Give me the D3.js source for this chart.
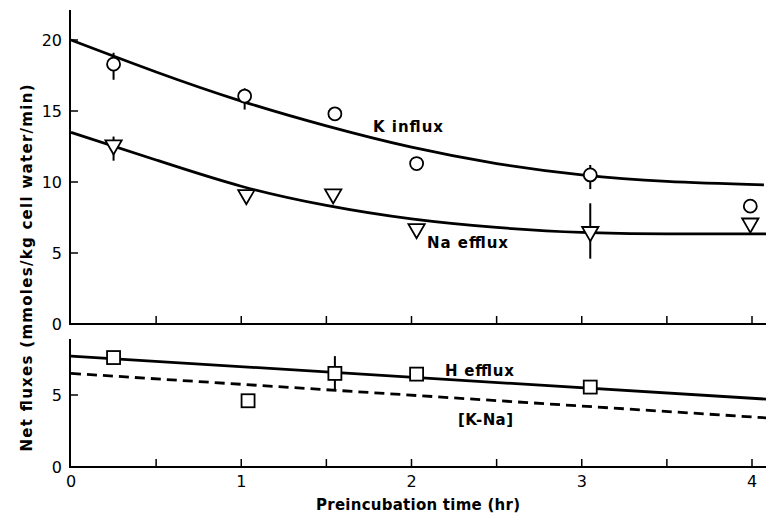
<!DOCTYPE html>
<html><head><meta charset="utf-8">
<script src="https://cdn.jsdelivr.net/npm/d3@7"></script>
<style>html,body{margin:0;padding:0;background:#fff;} svg{display:block;}</style>
</head><body>
<svg id="c" width="766" height="514"></svg>
<script>
// ---- data ----
const kInfluxT   = [0.25, 1.02, 1.55, 2.03, 3.05, 3.99];
const kInfluxV   = [18.3, 16.05, 14.8, 11.3, 10.5, 8.3];
const kInfluxErr = [[17.2, 19.1], [15.1, 16.6], null, null, [9.5, 11.2], null];
const naEffluxT   = [0.25, 1.03, 1.54, 2.03, 3.05, 3.99];
const naEffluxV   = [12.6, 9.1, 9.15, 6.7, 6.5, 7.1];
const naEffluxErr = [[11.5, 13.2], null, null, null, [4.6, 8.5], null];
const hEffluxT   = [0.25, 1.04, 1.55, 2.03, 3.05];
const hEffluxV   = [7.6, 4.6, 6.5, 6.45, 5.55];
const hEffluxErr = [null, null, [5.3, 7.7], null, null];
// fitted curves
const kCurveT  = [0, 0.5, 1, 1.5, 2, 2.5, 3, 3.5, 4.07];
const kCurveV  = [20, 17.75, 15.7, 13.95, 12.45, 11.3, 10.5, 10.05, 9.8];
const naCurveT = [0, 0.5, 1, 1.5, 2, 2.5, 3, 3.5, 4.1];
const naCurveV = [13.5, 11.55, 9.7, 8.35, 7.4, 6.8, 6.45, 6.35, 6.35];
const hLineT   = [0, 4.1];
const hLineV   = [7.7, 4.7];
const knaLineT = [0, 4.1];
const knaLineV = [6.5, 3.4];
const xTicks = [0, 1, 2, 3, 4];
const xMinorTicks = [0.5, 1, 1.5, 2, 2.5, 3, 3.5, 4];
const topYTicks = [0, 5, 10, 15, 20];
const botYTicks = [0, 5];

const svg = d3.select("#c");
const x = d3.scaleLinear().domain([0, 4]).range([71, 752]);
const yT = d3.scaleLinear().domain([0, 20]).range([324, 40]);
const yB = d3.scaleLinear().domain([0, 5]).range([467, 395]);
const FONT = "DejaVu Sans, sans-serif";

// axes frames
function frame(y, yTop, yTicks) {
  svg.append("line").attr("x1", 70).attr("x2", 70).attr("y1", yTop).attr("y2", y(0) + 1)
    .attr("stroke", "#000").attr("stroke-width", 2);
  svg.append("line").attr("x1", 69).attr("x2", 766).attr("y1", y(0)).attr("y2", y(0))
    .attr("stroke", "#000").attr("stroke-width", 2);
  svg.selectAll(null).data(yTicks.filter(d => d > 0)).enter().append("line")
    .attr("x1", 70).attr("x2", 78).attr("y1", d => y(d)).attr("y2", d => y(d))
    .attr("stroke", "#000").attr("stroke-width", 1.5);
  svg.selectAll(null).data(yTicks).enter().append("text")
    .attr("x", 62).attr("y", d => y(d)).attr("dy", "0.36em")
    .attr("text-anchor", "end").attr("font-family", FONT).attr("font-size", 16)
    .text(d => d);
  svg.selectAll(null).data(xMinorTicks).enter().append("line")
    .attr("x1", d => x(d)).attr("x2", d => x(d)).attr("y1", y(0)).attr("y2", y(0) - 8)
    .attr("stroke", "#000").attr("stroke-width", 1.5);
}
frame(yT, 10, topYTicks);
frame(yB, 339, botYTicks);

svg.selectAll(null).data(xTicks).enter().append("text")
  .attr("x", d => x(d)).attr("y", 487).attr("text-anchor", "middle")
  .attr("font-family", FONT).attr("font-size", 16).text(d => d);

// curves
function path(ts, vs, y, curve, dash) {
  const line = d3.line().x(d => x(d[0])).y(d => y(d[1])).curve(curve);
  svg.append("path").attr("d", line(ts.map((t, i) => [t, vs[i]])))
    .attr("fill", "none").attr("stroke", "#000").attr("stroke-width", 2.8)
    .attr("stroke-dasharray", dash || null);
}
path(kCurveT, kCurveV, yT, d3.curveNatural);
path(naCurveT, naCurveV, yT, d3.curveNatural);
path(hLineT, hLineV, yB, d3.curveLinear);
path(knaLineT, knaLineV, yB, d3.curveLinear, "10,6");

// error bars
function errs(ts, errArr, y) {
  svg.selectAll(null).data(ts.map((t, i) => [t, errArr[i]]).filter(d => d[1])).enter().append("line")
    .attr("x1", d => x(d[0])).attr("x2", d => x(d[0]))
    .attr("y1", d => y(d[1][0])).attr("y2", d => y(d[1][1]))
    .attr("stroke", "#000").attr("stroke-width", 2);
}
errs(kInfluxT, kInfluxErr, yT);
errs(naEffluxT, naEffluxErr, yT);
errs(hEffluxT, hEffluxErr, yB);

// markers
svg.selectAll(null).data(kInfluxT.map((t, i) => [t, kInfluxV[i]])).enter().append("circle")
  .attr("cx", d => x(d[0])).attr("cy", d => yT(d[1])).attr("r", 6.5)
  .attr("fill", "#fff").attr("stroke", "#000").attr("stroke-width", 1.8);
const tri = d3.symbol().type(d3.symbolTriangle).size(115);
svg.selectAll(null).data(naEffluxT.map((t, i) => [t, naEffluxV[i]])).enter().append("path")
  .attr("d", tri).attr("transform", d => `translate(${x(d[0])},${yT(d[1])}) rotate(180)`)
  .attr("fill", "#fff").attr("stroke", "#000").attr("stroke-width", 1.8);
svg.selectAll(null).data(hEffluxT.map((t, i) => [t, hEffluxV[i]])).enter().append("rect")
  .attr("x", d => x(d[0]) - 6.5).attr("y", d => yB(d[1]) - 6.5).attr("width", 13).attr("height", 13)
  .attr("fill", "#fff").attr("stroke", "#000").attr("stroke-width", 1.8);

// labels
function label(txt, px, py, len, anchor, rot) {
  const t = svg.append("text").attr("x", px).attr("y", py)
    .attr("font-family", FONT).attr("font-size", 15).attr("font-weight", "bold")
    .attr("text-anchor", anchor || "start")
    .attr("textLength", len).attr("lengthAdjust", "spacing").text(txt);
  if (rot) t.attr("transform", `rotate(-90,${px},${py})`);
}
label("K influx", 373, 132, 70);
label("Na efflux", 427, 248, 81);
label("H efflux", 445, 376, 69);
label("[K-Na]", 458, 425, 55);
label("Preincubation time (hr)", 418, 510, 204, "middle");
label("Net fluxes (mmoles/kg cell water/min)", 32, 268, 367, "middle", true);
</script>
</body></html>
